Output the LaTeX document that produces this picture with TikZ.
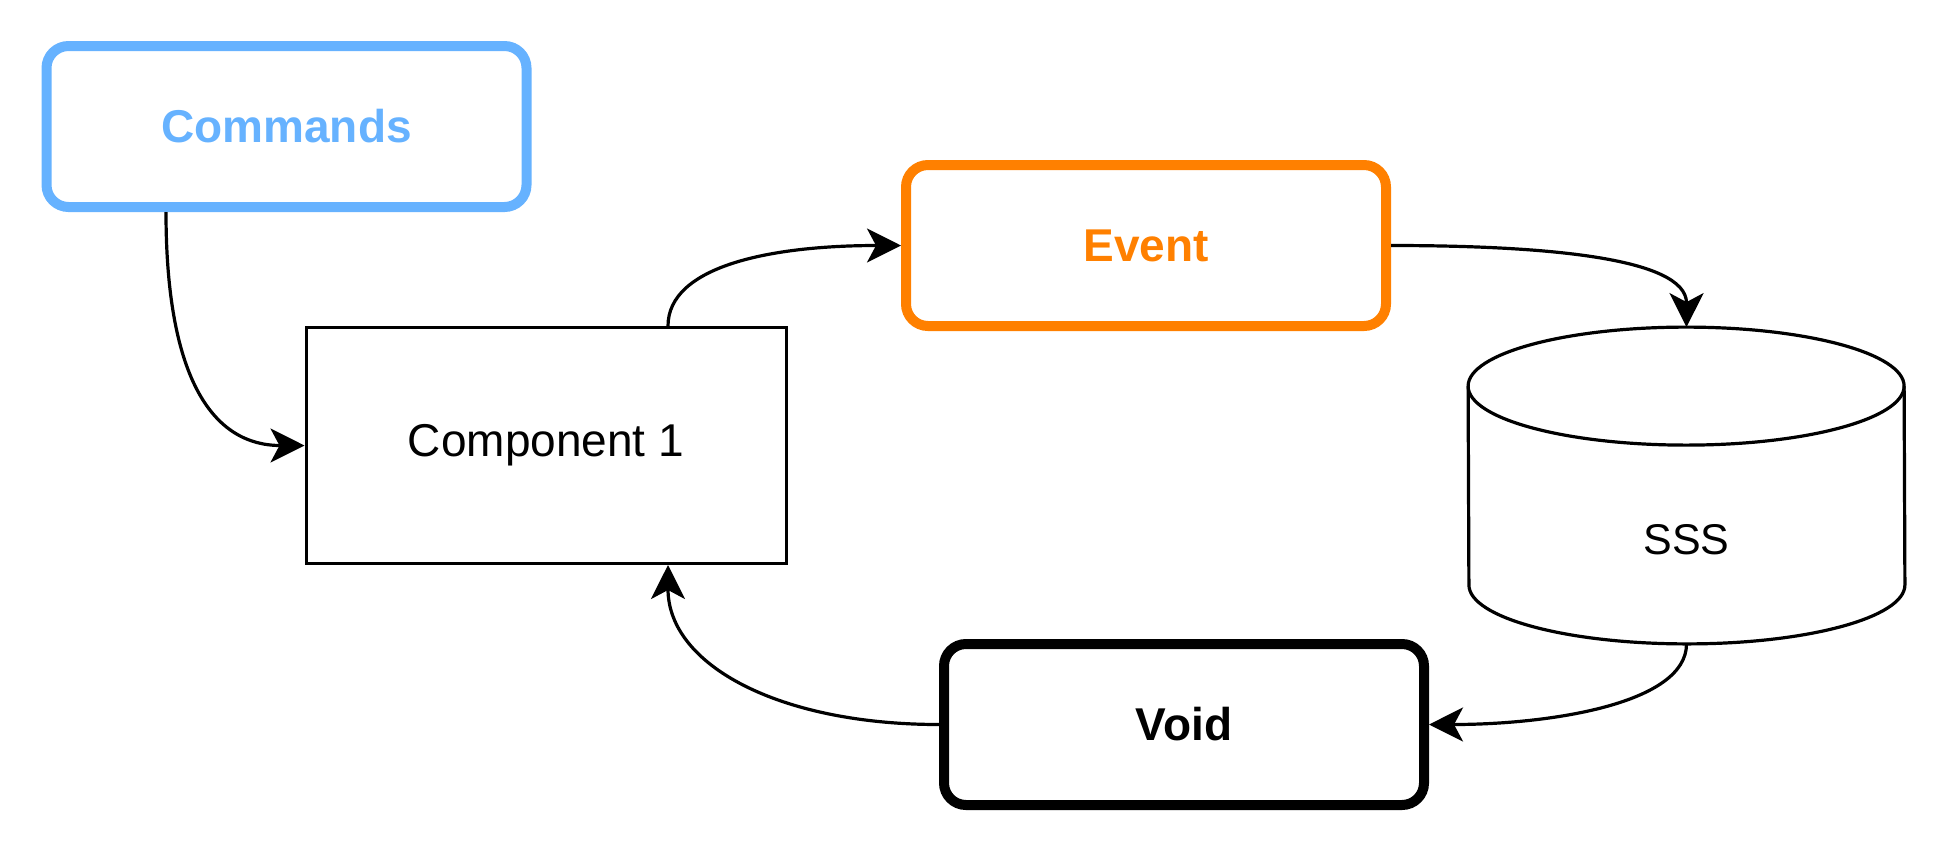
\documentclass[tikz,border=0pt]{standalone}
\usepackage{fontspec}
\setmainfont{Liberation Sans}
\usepackage{tikz}
\usepackage{xcolor}
\usetikzlibrary{arrows.meta, positioning}
\definecolor{cmdblue}{HTML}{66B2FF}
\definecolor{evorange}{HTML}{FF8000}

\begin{document}
\begin{tikzpicture}[node distance=100pt, on grid,
    conn/.style={line width=1.6pt, -{Stealth[length=17pt, width=17pt, inset=4.5pt]}},
    block/.style={rectangle, rounded corners=11pt, draw, line width=5pt, minimum width=240pt, minimum height=80.5pt, font=\bfseries\fontsize{23pt}{27pt}\selectfont},
    comp/.style={rectangle, draw, line width=1.5pt, minimum width=240pt, minimum height=118pt, font=\fontsize{23pt}{27pt}\selectfont},
    dbbox/.style={rectangle, minimum width=218pt, minimum height=158pt, inner sep=0pt}]

            \useasboundingbox (0,0) rectangle (976pt,-426pt);

            \node[comp] (Comp) at (273pt,-222.75pt) {Component 1};
            \node[block, draw=cmdblue, text=cmdblue, above left=159.5pt and 129.75pt of Comp] (Cmd) {Commands};
            \node[block, draw=evorange, text=evorange, above right=100pt and 300pt of Comp] (Ev) {Event};
            \node[block, below right=139.5pt and 319pt of Comp] (Vd) {Void};
            \node[dbbox, below right=120pt and 270.25pt of Ev] (Db) {};
            \node[font=\fontsize{21.5pt}{25pt}\selectfont] (DbLbl) at ([yshift=-27pt]Db.center) {SSS};

            % cylinder outline
            \draw[line width=1.6pt] ([yshift=-29.5pt]Db.north west) arc[start angle=180, end angle=0, x radius=109pt, y radius=29.5pt]
                -- ([yshift=29.5pt]Db.south east) arc[start angle=0, end angle=-180, x radius=109pt, y radius=29.5pt] -- cycle;
            \draw[line width=1.6pt] ([yshift=-29.5pt]Db.north west) arc[start angle=180, end angle=360, x radius=109pt, y radius=29.5pt];

            \path[conn]
            ([xshift=-60.25pt]Cmd.south) edge[out=-90, in=180, out distance=85pt, in distance=45pt] (Comp.west)
            ([xshift=61pt]Comp.north) edge[out=90, in=180, out distance=30pt, in distance=65pt] (Ev.west)
            (Ev.east) edge[out=0, in=90, out distance=75pt, in distance=35pt] (Db.north)
            (Db.south) edge[out=-90, in=0, out distance=30pt, in distance=60pt] (Vd.east)
            (Vd.west) edge[out=180, in=-90, out distance=80pt, in distance=50pt] ([xshift=61pt]Comp.south)
            ;

\end{tikzpicture}
\end{document}
